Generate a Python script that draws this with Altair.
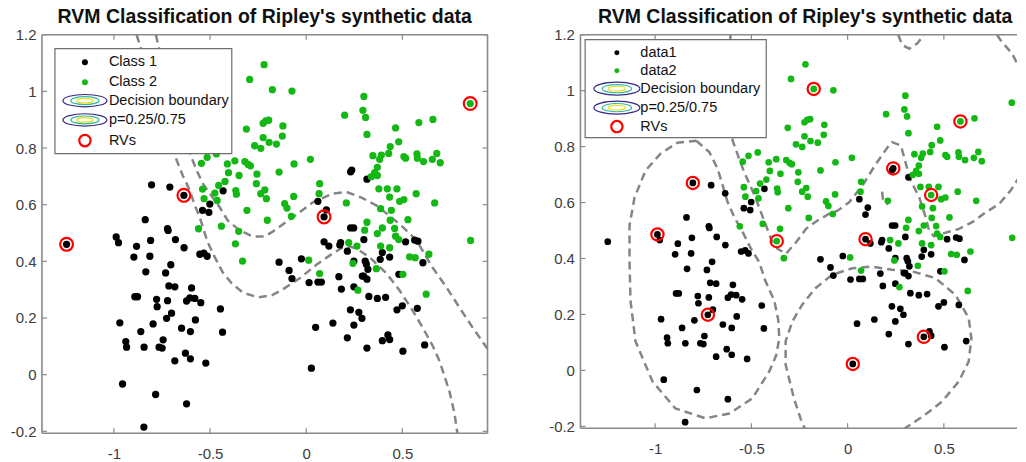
import altair as alt
import pandas as pd

TITLE = "RVM Classification of Ripley's synthetic data"
FONT = "Liberation Sans"

x_ticks = [-1, -0.5, 0, 0.5]
y_ticks = [-0.2, 0, 0.2, 0.4, 0.6, 0.8, 1, 1.2]

left_labels = ["Class 1", "Class 2", "Decision boundary", "p=0.25/0.75", "RVs"]
right_labels = ["data1", "data2", "Decision boundary", "p=0.25/0.75", "RVs"]

class1_x = [-1.246, -0.988, -0.976, -0.882, -0.809, -0.718, -0.680, -0.635, -0.896, -0.813,
            -0.834, -0.704, -0.731, -0.891, -0.877, -0.778, -0.775, -0.714, -0.683, -0.721,
            -0.700, -0.726, -0.596, -0.605, -0.622, -0.579, -0.548, -0.576, -0.969, -0.938,
            -0.934, -0.860, -0.796, -0.744, -0.765, -0.749, -0.843, -0.648, -0.602, -0.446,
            -0.435, -0.683, -0.628, -0.602, -0.522, -0.955, -0.783, -0.622, -0.844, -0.553,
            -0.532, -0.515, -0.804, -0.709, -0.636, -0.432, -0.501, -0.539, -0.506, -0.837,
            -0.721,
            0.093, 0.061, 0.105, 0.231, 0.237, 0.316, 0.231, 0.247, 0.093, 0.118,
            0.179, 0.175, 0.214, 0.300, 0.517, 0.564, 0.581, 0.607, 0.396, 0.385,
            0.434, 0.307, 0.313, 0.321, 0.299, 0.316, 0.248, -0.141, -0.089, -0.074,
            -0.025, 0.015, 0.061, 0.079, 0.170, 0.183, 0.248, 0.292, 0.326, 0.370,
            0.413, 0.482, 0.230, 0.274, 0.290, 0.248, 0.139, 0.049, 0.214, 0.425,
            0.396, 0.434, 0.316, 0.503, 0.616, 0.472, 0.500, 0.578, 0.027]
class1_y = [0.460, 0.486, 0.466, 0.453, 0.474, 0.509, 0.477, 0.448, 0.415, 0.418,
            0.363, 0.388, 0.359, 0.275, 0.275, 0.266, 0.240, 0.313, 0.310, 0.261,
            0.217, 0.199, 0.306, 0.271, 0.260, 0.269, 0.254, 0.193, 0.183, 0.117,
            0.097, 0.152, 0.179, 0.123, 0.097, 0.094, 0.097, 0.164, 0.152, 0.232,
            0.150, 0.049, 0.076, 0.056, 0.041, -0.033, -0.070, -0.103, -0.185, 0.425,
            0.429, 0.418, 0.670, 0.662, 0.633, 0.649, 0.602, 0.580, 0.573, 0.547,
            0.515,
            0.557, 0.612, 0.582, 0.716, 0.722, 0.690, 0.518, 0.518, 0.469, 0.454,
            0.466, 0.458, 0.436, 0.477, 0.469, 0.475, 0.471, 0.395, 0.431, 0.407,
            0.415, 0.401, 0.390, 0.372, 0.348, 0.337, 0.401, 0.397, 0.368, 0.339,
            0.409, 0.325, 0.327, 0.327, 0.346, 0.302, 0.310, 0.348, 0.276, 0.269,
            0.273, 0.354, 0.229, 0.220, 0.199, 0.175, 0.182, 0.167, 0.130, 0.140,
            0.120, 0.124, 0.094, 0.083, 0.105, 0.229, 0.243, 0.234, 0.023]

class2_x = [-0.545, -0.515, -0.467, -0.410, -0.404, -0.371, -0.319, -0.302, -0.290, -0.349,
            -0.256, -0.259, -0.215, -0.236, -0.207, -0.422, -0.455, -0.475, -0.539, -0.531,
            -0.463, -0.366, -0.363, -0.308, -0.202, -0.560, -0.441, -0.351, -0.368, -0.331,
            -0.219, -0.294, -0.176, -0.074, -0.311, -0.224, -0.210, -0.195, -0.121, -0.124,
            -0.224, -0.268, -0.236, -0.193, -0.155, -0.141, -0.065, -0.112, -0.100, -0.077,
            0.022, -0.063, 0.070, 0.067, 0.209, 0.200, 0.300, 0.295, 0.309, 0.316,
            0.347, 0.391, 0.382, 0.429, 0.437, 0.481, 0.465, 0.508, 0.517, 0.586,
            0.659, 0.576, 0.578, 0.610, 0.656, 0.679, 0.697, 0.572, 0.668, 0.370,
            0.356, 0.370, 0.339, 0.378, 0.422, 0.434, 0.472, 0.486, 0.508, 0.387,
            0.443, 0.529, 0.437, 0.316, 0.304, 0.370, 0.396, 0.460, 0.465, 0.481,
            0.221, 0.264, 0.013, 0.070, 0.243, 0.365, 0.387, 0.434, 0.538, 0.567,
            0.638, 0.503, 0.269, 0.624, 0.855, 0.853]
class2_y = [0.746, 0.767, 0.779, 0.744, 0.713, 0.755, 0.752, 0.742, 0.737, 0.703,
            0.708, 0.674, 0.652, 0.639, 0.621, 0.682, 0.668, 0.641, 0.655, 0.621,
            0.615, 0.650, 0.637, 0.580, 0.545, 0.515, 0.524, 0.506, 0.462, 0.401,
            1.094, 1.042, 1.006, 1.001, 0.867, 0.887, 0.896, 0.898, 0.878, 0.842,
            0.837, 0.808, 0.799, 0.820, 0.814, 0.715, 0.629, 0.604, 0.588, 0.559,
            0.760, 0.744, 0.674, 0.639, 0.606, 0.916, 0.982, 0.933, 0.908, 0.848,
            0.773, 0.775, 0.760, 0.781, 0.805, 0.822, 0.871, 0.770, 0.764, 0.890,
            0.901, 0.779, 0.764, 0.752, 0.760, 0.781, 0.748, 0.639, 0.606, 0.732,
            0.713, 0.703, 0.699, 0.656, 0.656, 0.627, 0.656, 0.612, 0.618, 0.586,
            0.580, 0.547, 0.545, 0.538, 0.510, 0.498, 0.518, 0.516, 0.489, 0.477,
            0.466, 0.454, 0.404, 0.357, 0.393, 0.374, 0.454, 0.448, 0.416, 0.413,
            0.425, 0.354, 0.298, 0.284, 0.474, 0.957]

left_rv_x = [-1.246, -0.636, 0.093, 0.853]
left_rv_y = [0.460, 0.633, 0.557, 0.957]
right_rv_x = [-0.988, -0.368, 0.093, -0.726, 0.027, 0.396, -0.804, -0.176, 0.237, 0.434, 0.586]
right_rv_y = [0.486, 0.462, 0.469, 0.199, 0.023, 0.120, 0.670, 1.006, 0.722, 0.627, 0.890]

# left panel contours
lp_x = [-0.882, -0.673, -0.642, -0.605, -0.579, -0.553, -0.532, -0.512, -0.475, -0.434,
        -0.387, -0.330, -0.252, -0.179, -0.122, -0.034, 0.055, 0.138, 0.190, 0.226,
        0.262, 0.330, 0.418, 0.486, 0.553, 0.605, 0.657, 0.694, 0.745, 0.771, 0.788]
lp_y = [1.200, 0.756, 0.703, 0.650, 0.597, 0.555, 0.509, 0.467, 0.414, 0.361,
        0.322, 0.290, 0.273, 0.280, 0.301, 0.340, 0.389, 0.428, 0.449, 0.452,
        0.445, 0.414, 0.357, 0.297, 0.227, 0.167, 0.103, 0.047, -0.059, -0.136, -0.215]
lq_x = [-0.782, -0.730, -0.668, -0.616, -0.590, -0.569, -0.538, -0.486, -0.449, -0.408,
        -0.345, -0.278, -0.216, -0.174, -0.070, 0.034, 0.138, 0.210, 0.288, 0.366,
        0.444, 0.506, 0.574, 0.657, 0.730, 0.797, 0.865, 0.938, 0.964]
lq_y = [1.200, 1.055, 0.914, 0.809, 0.756, 0.720, 0.675, 0.625, 0.590, 0.544,
        0.509, 0.488, 0.488, 0.505, 0.555, 0.608, 0.639, 0.645, 0.625, 0.597,
        0.555, 0.519, 0.474, 0.378, 0.308, 0.237, 0.167, 0.096, 0.072]

# right panel contours
r1_x = [-0.786, -0.718, -0.675, -0.649, -0.623, -0.588, -0.545, -0.502, -0.459, -0.428,
        -0.381, -0.360, -0.355, -0.371, -0.407, -0.495, -0.614, -0.739, -0.895, -1.014,
        -1.102, -1.128, -1.133, -1.133, -1.107, -1.050, -0.972, -0.884, -0.786]
r1_y = [0.821, 0.780, 0.720, 0.661, 0.601, 0.547, 0.494, 0.435, 0.387, 0.321,
        0.250, 0.179, 0.114, 0.054, -0.004, -0.100, -0.154, -0.171, -0.136, -0.039,
        0.104, 0.250, 0.393, 0.518, 0.618, 0.714, 0.775, 0.814, 0.821]
r2_x = [-0.609, -0.604, -0.597, -0.563, -0.537, -0.502, -0.476, -0.450, -0.424, -0.398,
        -0.364, -0.320, -0.268, -0.216, -0.156, -0.095, -0.052, 0.008, 0.077, 0.147,
        0.206, 0.231, 0.277, 0.303, 0.328, 0.372, 0.406, 0.423, 0.449, 0.491,
        0.579, 0.648, 0.718, 0.787, 0.847, 0.891, 0.922]
r2_y = [1.200, 1.000, 0.821, 0.756, 0.708, 0.655, 0.613, 0.565, 0.518, 0.470,
        0.435, 0.417, 0.458, 0.506, 0.536, 0.560, 0.571, 0.601, 0.661, 0.738,
        0.796, 0.816, 0.804, 0.738, 0.679, 0.619, 0.547, 0.500, 0.479, 0.489,
        0.506, 0.530, 0.565, 0.595, 0.643, 0.690, 0.739]
r3_x = [-0.210, -0.236, -0.279, -0.322, -0.322, -0.287, -0.236, -0.167, -0.080, 0.024,
        0.128, 0.231, 0.335, 0.456, 0.560, 0.629, 0.643, 0.629, 0.578, 0.491,
        0.404, 0.300, 0.268]
r3_y = [-0.221, -0.190, -0.099, 0.020, 0.104, 0.175, 0.235, 0.294, 0.342, 0.365,
        0.371, 0.360, 0.354, 0.330, 0.270, 0.187, 0.115, 0.032, -0.039, -0.111,
        -0.158, -0.206, -0.229]
r4_x = [0.263, 0.283, 0.320, 0.361, 0.397]
r4_y = [1.200, 1.164, 1.150, 1.168, 1.200]
r5_x = [0.776, 0.796, 0.856, 0.899, 0.922]
r5_y = [1.200, 1.179, 1.131, 1.071, 1.036]
r6_x = [0.179, 0.184, 0.210]
r6_y = [0.639, 0.611, 0.593]

FRAME = "#8a8a8a"
DASH = "#858585"
GREEN = "#14b814"
ELLIPSE = "M -1 0 A 1 0.28 0 1 1 1 0 A 1 0.28 0 1 1 -1 0 Z"
ONE = pd.DataFrame({"k": [0]})


def contour_df(curves):
    rows = []
    for name, (xs, ys) in curves.items():
        for i, (a, b) in enumerate(zip(xs, ys)):
            rows.append({"curve": name, "i": i, "x": a, "y": b})
    return pd.DataFrame(rows)


def make_panel(W, H, xdom, ydom, curves, rvx, rvy, labels, leg, dot, rv_size,
               title_dx, right_frame):
    xs = alt.Scale(domain=xdom, nice=False, zero=False)
    ys = alt.Scale(domain=ydom, nice=False, zero=False)
    common = dict(domain=False, ticks=False, tickSize=0, grid=False, title=None,
                  labelFont=FONT, labelFontSize=15, labelColor="#3c3c3c",
                  labelExpr="datum.value + ''", labelOverlap=False)
    xa = alt.Axis(values=x_ticks, labelPadding=13, labelFlush=False, **common)
    ya = alt.Axis(values=y_ticks, labelPadding=6, minExtent=34, maxExtent=34, **common)

    def X(f):
        return alt.X(f, type="quantitative", scale=xs, axis=xa)

    def Y(f):
        return alt.Y(f, type="quantitative", scale=ys, axis=ya)

    layers = []
    layers.append(alt.Chart(contour_df(curves)).mark_line(
        clip=True, color=DASH, strokeWidth=2.5, strokeDash=[8, 5]).encode(
        X("x"), Y("y"), detail="curve:N", order="i:Q"))
    layers.append(alt.Chart(pd.DataFrame({"x": class1_x, "y": class1_y})).mark_circle(
        size=dot, color="#000000", opacity=1, clip=True).encode(X("x"), Y("y")))
    layers.append(alt.Chart(pd.DataFrame({"x": class2_x, "y": class2_y})).mark_circle(
        size=dot, color=GREEN, opacity=1, clip=True).encode(X("x"), Y("y")))
    layers.append(alt.Chart(pd.DataFrame({"x": rvx, "y": rvy})).mark_point(
        shape="circle", filled=False, color="#ff0000", strokeWidth=2.2, size=rv_size,
        opacity=1, clip=True).encode(X("x"), Y("y")))

    # frame
    fr = dict(color=FRAME, strokeWidth=1.6)
    layers.append(alt.Chart(ONE).mark_rule(**fr).encode(
        x=alt.value(0), x2=alt.value(W), y=alt.value(0)))
    layers.append(alt.Chart(ONE).mark_rule(**fr).encode(
        x=alt.value(0), x2=alt.value(W), y=alt.value(H)))
    layers.append(alt.Chart(ONE).mark_rule(**fr).encode(
        x=alt.value(0), y=alt.value(0), y2=alt.value(H)))
    if right_frame:
        layers.append(alt.Chart(ONE).mark_rule(**fr).encode(
            x=alt.value(W), y=alt.value(0), y2=alt.value(H)))

    # inward ticks
    tk = dict(color=FRAME, strokeWidth=1.2)
    xt = pd.DataFrame({"v": x_ticks})
    yt = pd.DataFrame({"v": y_ticks})
    layers.append(alt.Chart(xt).mark_rule(**tk).encode(x=X("v"), y=alt.value(0), y2=alt.value(5)))
    layers.append(alt.Chart(xt).mark_rule(**tk).encode(x=X("v"), y=alt.value(H), y2=alt.value(H - 5)))
    layers.append(alt.Chart(yt).mark_rule(**tk).encode(y=Y("v"), x=alt.value(0), x2=alt.value(5)))
    if right_frame:
        layers.append(alt.Chart(yt).mark_rule(**tk).encode(y=Y("v"), x=alt.value(W), x2=alt.value(W - 5)))

    # legend
    bx1, by1, bx2, by2 = leg["box"]
    sx, tx, rows = leg["sx"], leg["tx"], leg["rows"]
    layers.append(alt.Chart(ONE).mark_rect(fill="white", stroke="#6e6e6e", strokeWidth=1.2).encode(
        x=alt.value(bx1), x2=alt.value(bx2), y=alt.value(by1), y2=alt.value(by2)))
    layers.append(alt.Chart(ONE).mark_circle(size=leg["dot"], color="#000000", opacity=1).encode(
        x=alt.value(sx), y=alt.value(rows[0])))
    layers.append(alt.Chart(ONE).mark_circle(size=leg["dot"], color=GREEN, opacity=1).encode(
        x=alt.value(sx), y=alt.value(rows[1])))
    ew = leg["ew"]
    for r in (rows[2], rows[3]):
        for col, w in (("#352a87", ew), ("#33b8a1", ew * 0.64), ("#e8e010", ew * 0.37)):
            layers.append(alt.Chart(ONE).mark_point(
                shape=ELLIPSE, filled=False, color=col, strokeWidth=1.2, size=w * w, opacity=1).encode(
                x=alt.value(sx), y=alt.value(r)))
    layers.append(alt.Chart(ONE).mark_point(
        shape="circle", filled=False, color="#ff0000", strokeWidth=2.2, size=leg["rv"], opacity=1).encode(
        x=alt.value(sx), y=alt.value(rows[4])))
    for lab, r in zip(labels, rows):
        layers.append(alt.Chart(ONE).mark_text(
            text=lab, align="left", baseline="middle", font=FONT, fontSize=14.5, color="#111111").encode(
            x=alt.value(tx), y=alt.value(r)))

    return alt.layer(*layers).properties(
        width=W, height=H,
        title=alt.TitleParams(text=TITLE, font=FONT, fontSize=19.5, fontWeight="bold",
                              color="#111111", anchor="middle", offset=0, dx=title_dx))


left = make_panel(
    446, 399, [-1.374, 0.943], [-0.207, 1.2],
    {"p": (lp_x, lp_y), "q": (lq_x, lq_y)},
    left_rv_x, left_rv_y, left_labels,
    {"box": (13, 14, 190, 119), "sx": 43, "tx": 67, "rows": [27.7, 47.7, 66, 85.3, 106],
     "dot": 36, "ew": 44, "rv": 130},
    53, 165, 0, True)

right = make_panel(
    437, 394, [-1.388, 0.880], [-0.207, 1.2],
    {"r1": (r1_x, r1_y), "r2": (r2_x, r2_y), "r3": (r3_x, r3_y),
     "r4": (r4_x, r4_y), "r5": (r5_x, r5_y), "r6": (r6_x, r6_y)},
    right_rv_x, right_rv_y, right_labels,
    {"box": (4.7, 5, 186, 103), "sx": 36.5, "tx": 60, "rows": [18, 36, 54, 73, 92],
     "dot": 25, "ew": 46, "rv": 128},
    45, 150, 6.5, False)

chart = alt.hconcat(left, right, spacing=58).properties(
    padding={"left": 0, "top": -1.5, "right": 0, "bottom": 0}
).configure_view(stroke=None)

chart.save("out.html", embed_options={"renderer": "svg", "actions": False})
